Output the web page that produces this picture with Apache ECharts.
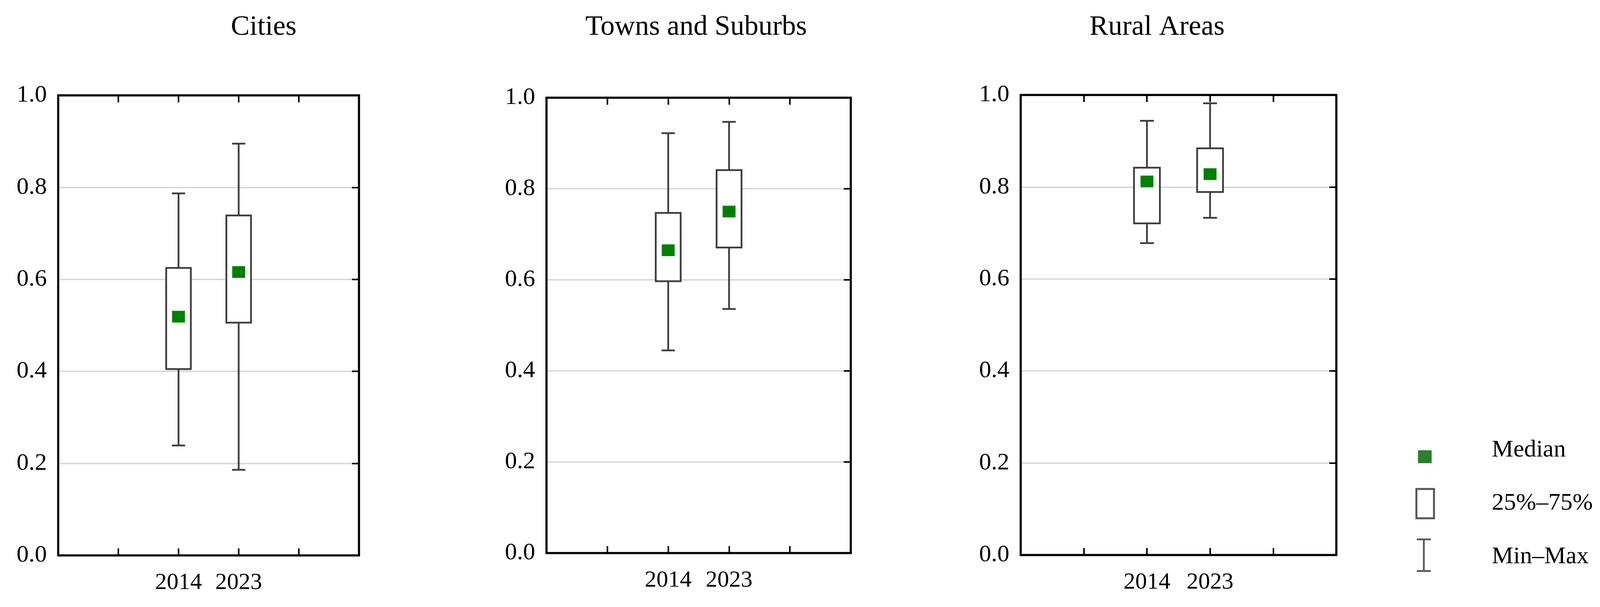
<!DOCTYPE html>
<html>
<head>
<meta charset="utf-8">
<script src="https://cdn.jsdelivr.net/npm/echarts@6/dist/echarts.min.js"></script>
<style>
  html, body { margin: 0; padding: 0; background: #fff; }
  #chart { width: 4097px; height: 1553px; }
</style>
</head>
<body>
<div id="chart"></div>
<script>
// ---------------- data ----------------
const panelTitles = ['Cities', 'Towns and Suburbs', 'Rural Areas'];
const years = ['2014', '2023'];
// each row: [min, q25, median, q75, max]
const citiesStats = [
  [0.239, 0.405, 0.519, 0.625, 0.787],
  [0.186, 0.506, 0.616, 0.739, 0.895]
];
const townsStats = [
  [0.445, 0.597, 0.665, 0.747, 0.922],
  [0.536, 0.671, 0.750, 0.841, 0.947]
];
const ruralStats = [
  [0.678, 0.721, 0.812, 0.842, 0.944],
  [0.733, 0.789, 0.828, 0.884, 0.982]
];
const yTicks = [0, 0.2, 0.4, 0.6, 0.8, 1.0];
const legendLabels = ['Median', '25%\u201375%', 'Min\u2013Max'];

// ---------------- layout / style ----------------
const FONT = 'Liberation Serif';
const grids = [
  { left: 149, top: 244, width: 770, height: 1177 },
  { left: 1399, top: 250, width: 779, height: 1165 },
  { left: 2613, top: 243, width: 808, height: 1177 }
];
const titleCenters = [675, 1782, 2962];
const statsList = [citiesStats, townsStats, ruralStats];
const X_OFFSET = 2; // first year sits on the 2nd interior tick of 5 divisions

const chart = echarts.init(document.getElementById('chart'), null, { renderer: 'canvas' });

function renderBox(params, api) {
  const x = api.value(0);
  const pMin = api.coord([x, api.value(1)]);
  const pQ1 = api.coord([x, api.value(2)]);
  const pMed = api.coord([x, api.value(3)]);
  const pQ3 = api.coord([x, api.value(4)]);
  const pMax = api.coord([x, api.value(5)]);
  const unit = api.size([1, 0])[0];
  const bw = unit * 0.41;
  const cw = unit * 0.22;
  const mw = 33, mh = 30;
  const cx = pMed[0];
  const lineStyle = { stroke: '#3c3c3c', lineWidth: 4.5, fill: null };
  return {
    type: 'group',
    children: [
      { type: 'line', shape: { x1: cx, y1: pMin[1], x2: cx, y2: pQ1[1] }, style: lineStyle },
      { type: 'line', shape: { x1: cx, y1: pQ3[1], x2: cx, y2: pMax[1] }, style: lineStyle },
      { type: 'line', shape: { x1: cx - cw / 2, y1: pMin[1], x2: cx + cw / 2, y2: pMin[1] }, style: lineStyle },
      { type: 'line', shape: { x1: cx - cw / 2, y1: pMax[1], x2: cx + cw / 2, y2: pMax[1] }, style: lineStyle },
      { type: 'rect', shape: { x: cx - bw / 2, y: pQ3[1], width: bw, height: pQ1[1] - pQ3[1] },
        style: { fill: '#ffffff', stroke: '#3c3c3c', lineWidth: 4.5 } },
      { type: 'rect', shape: { x: cx - mw / 2, y: pMed[1] - mh / 2, width: mw, height: mh },
        style: { fill: '#008000' } }
    ]
  };
}

const option = {
  backgroundColor: '#ffffff',
  animation: false,
  title: panelTitles.map((t, i) => ({
    text: t,
    left: titleCenters[i],
    top: 34,
    padding: 0,
    textAlign: 'center',
    textStyle: { fontFamily: FONT, fontSize: 72, fontWeight: 'normal', color: '#000' }
  })),
  grid: grids.map(g => Object.assign({ containLabel: false }, g)),
  xAxis: [],
  yAxis: [],
  series: [],
  graphic: []
};

grids.forEach((g, i) => {
  const axisLine = { show: true, onZero: false, lineStyle: { color: '#000', width: 5.5 } };
  const tick = { show: true, inside: true, length: 18, lineStyle: { color: '#000', width: 4 } };
  option.xAxis.push({
    type: 'value', gridIndex: i, position: 'bottom', min: 0, max: 5, interval: 1,
    axisLine: axisLine,
    axisTick: tick,
    axisLabel: {
      show: true, margin: 40, fontFamily: FONT, fontSize: 60, color: '#000',
      formatter: v => (years[v - X_OFFSET] !== undefined ? years[v - X_OFFSET] : '')
    },
    splitLine: { show: false }
  });
  option.xAxis.push({
    type: 'value', gridIndex: i, position: 'top', min: 0, max: 5, interval: 1,
    axisLine: axisLine,
    axisTick: tick,
    axisLabel: { show: false },
    splitLine: { show: false }
  });
  option.yAxis.push({
    type: 'value', gridIndex: i, position: 'left', min: 0, max: 1, interval: 0.2,
    axisLine: axisLine,
    axisTick: { show: false },
    axisLabel: {
      show: true, margin: 29, fontFamily: FONT, fontSize: 62, color: '#000',
      formatter: v => v.toFixed(1)
    },
    splitLine: { show: true, lineStyle: { color: '#d6d6d6', width: 3.5 } }
  });
  option.yAxis.push({
    type: 'value', gridIndex: i, position: 'right', min: 0, max: 1, interval: 0.2,
    axisLine: axisLine,
    axisTick: tick,
    axisLabel: { show: false },
    splitLine: { show: false }
  });
  const data = statsList[i].map((s, k) => [k + X_OFFSET].concat(s));
  option.series.push({
    type: 'custom',
    name: panelTitles[i],
    xAxisIndex: i * 2,
    yAxisIndex: i * 2,
    renderItem: renderBox,
    encode: { x: 0, y: [1, 2, 3, 4, 5] },
    data: data,
    clip: false,
    z: 5
  });
});

// legend (drawn as graphic elements)
const legendStroke = '#555555';
option.graphic = [
  { type: 'rect', shape: { x: 3630, y: 1152, width: 35, height: 33 }, style: { fill: '#2e7f2b' } },
  { type: 'rect', shape: { x: 3626, y: 1251, width: 45, height: 75 },
    style: { fill: '#ffffff', stroke: legendStroke, lineWidth: 5 } },
  { type: 'line', shape: { x1: 3645, y1: 1380, x2: 3645, y2: 1461 }, style: { stroke: legendStroke, lineWidth: 4.5 } },
  { type: 'line', shape: { x1: 3627, y1: 1380, x2: 3663, y2: 1380 }, style: { stroke: legendStroke, lineWidth: 4.5 } },
  { type: 'line', shape: { x1: 3627, y1: 1461, x2: 3663, y2: 1461 }, style: { stroke: legendStroke, lineWidth: 4.5 } }
].concat(legendLabels.map((t, i) => ({
  type: 'text',
  x: 3819,
  y: [1152, 1288, 1425][i],
  style: { text: t, fontFamily: FONT, fontSize: 62, fill: '#000', align: 'left', verticalAlign: 'middle' }
})));

chart.setOption(option);
</script>
</body>
</html>
